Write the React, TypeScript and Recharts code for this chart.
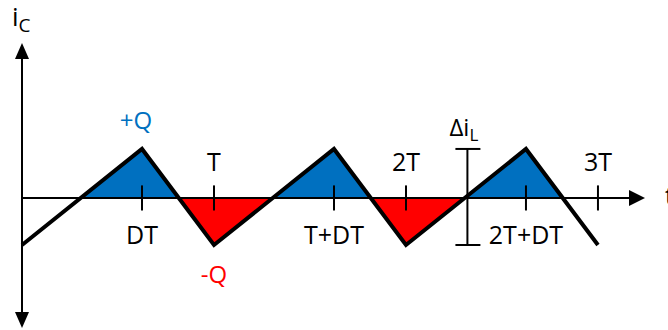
import React from "react";
import {
  ComposedChart,
  Area,
  Line,
  XAxis,
  YAxis,
  ReferenceLine,
  ReferenceDot,
} from "recharts";

// Capacitor current over three switching periods (time in units of T, D = 0.625)
const times = [0, 0.625, 1, 1.625, 2, 2.625, 3];
const current = [-0.48, 0.5, -0.48, 0.5, -0.48, 0.5, -0.48];

// Time-axis tick marks and their labels
const tickTimes = [0.625, 1, 1.625, 2, 2.625, 3];
const tickLabels = ["DT", "T", "T+DT", "2T", "2T+DT", "3T"];
const tickAbove = [false, true, false, true, false, true];

// Charge annotations: first positive peak and first negative trough
const chargeTimes = [0.625, 1];
const chargeValues = [0.5, -0.48];
const chargeLabels = ["+Q", "-Q"];

// Ripple bracket position on the time axis
const rippleTime = 2.32;

const data = times.map((t, k) => ({ t, i: current[k] }));

const FONT = "'Open Sans', 'DejaVu Sans', sans-serif";
const BLUE = "#0070C0";
const RED = "#FF0000";

const maxI = Math.max(...current);
const minI = Math.min(...current);
// Fraction of the area's height that lies above zero
const splitOffset = maxI / (maxI - minI);

// Shading runs from the first rising zero crossing to the last falling one
const n = times.length;
const span = times[n - 1] - times[0];
const firstCross =
  times[0] + ((0 - current[0]) / (current[1] - current[0])) * (times[1] - times[0]);
const lastCross =
  times[n - 2] +
  ((current[n - 2] - 0) / (current[n - 2] - current[n - 1])) * (times[n - 1] - times[n - 2]);
const shadeStart = (firstCross - times[0]) / span;
const shadeWidth = (lastCross - firstCross) / span;

const xDomain: [number, number] = [0, 3.245];
const yDomain: [number, number] = [-1.327, 1.581];
const tickHalf = 0.128;

const VerticalAxisShape = (p: any) => {
  const x = p.x1;
  const top = Math.min(p.y1, p.y2);
  const bottom = Math.max(p.y1, p.y2);
  return (
    <g>
      <line x1={x} y1={top + 12} x2={x} y2={bottom - 12} stroke="#000" strokeWidth={2} />
      <polygon points={`${x},${top} ${x - 7},${top + 16} ${x + 7},${top + 16}`} fill="#000" />
      <polygon points={`${x},${bottom} ${x - 7},${bottom - 16} ${x + 7},${bottom - 16}`} fill="#000" />
      <text x={x - 10} y={top - 17} fontFamily={FONT} fontSize={26} fill="#000">
        i
        <tspan fontSize={19} dy={6}>C</tspan>
      </text>
    </g>
  );
};

const HorizontalAxisShape = (p: any) => {
  const y = p.y1;
  const left = Math.min(p.x1, p.x2);
  const right = Math.max(p.x1, p.x2);
  return (
    <g>
      <line x1={left} y1={y} x2={right - 12} y2={y} stroke="#000" strokeWidth={2} />
      <polygon points={`${right},${y} ${right - 16},${y - 8} ${right - 16},${y + 8}`} fill="#000" />
      <text x={right + 20} y={y + 7} fontFamily={FONT} fontSize={25} fill="#000">
        t
      </text>
    </g>
  );
};

const makeTickShape = (label: string, above: boolean) => (p: any) => {
  const x = p.x1;
  const yMid = (p.y1 + p.y2) / 2;
  return (
    <g>
      <line x1={p.x1} y1={p.y1} x2={p.x2} y2={p.y2} stroke="#000" strokeWidth={2} />
      <text
        x={x}
        y={above ? yMid - 27 : yMid + 46}
        textAnchor="middle"
        fontFamily={FONT}
        fontSize={25}
        fill="#000"
      >
        {label}
      </text>
    </g>
  );
};

const RippleShape = (p: any) => {
  const x = p.x1;
  const top = Math.min(p.y1, p.y2);
  const bottom = Math.max(p.y1, p.y2);
  return (
    <g>
      <line x1={x} y1={top} x2={x} y2={bottom} stroke="#000" strokeWidth={2} />
      <line x1={x - 12} y1={top} x2={x + 13} y2={top} stroke="#000" strokeWidth={2} />
      <line x1={x - 12} y1={bottom} x2={x + 13} y2={bottom} stroke="#000" strokeWidth={2} />
      <text x={x - 18} y={top - 13} fontFamily={FONT} fontSize={24} fill="#000">
        Δi
        <tspan fontSize={17} dy={5}>L</tspan>
      </text>
    </g>
  );
};

const makeChargeShape = (label: string, positive: boolean) => (p: any) => (
  <text
    x={positive ? p.cx - 6 : p.cx}
    y={positive ? p.cy - 20 : p.cy + 38}
    textAnchor="middle"
    fontFamily={FONT}
    fontSize={24}
    fill={positive ? BLUE : RED}
  >
    {label}
  </text>
);

export default function App() {
  return (
    <div style={{ position: "absolute", left: 0, top: 0, background: "#fff" }}>
      <ComposedChart
        width={668}
        height={330}
        data={data}
        margin={{ top: 43, right: 23, bottom: 2, left: 22 }}
      >
        <defs>
          {/* blue above zero, red below, only between the outer zero crossings */}
          <pattern
            id="chargeFill"
            patternUnits="objectBoundingBox"
            patternContentUnits="objectBoundingBox"
            x="0"
            y="0"
            width="1"
            height="1"
          >
            <rect x={shadeStart} y={0} width={shadeWidth} height={splitOffset} fill={BLUE} />
            <rect
              x={shadeStart}
              y={splitOffset}
              width={shadeWidth}
              height={1 - splitOffset}
              fill={RED}
            />
          </pattern>
        </defs>
        <XAxis dataKey="t" type="number" domain={xDomain} hide />
        <YAxis type="number" domain={yDomain} hide />
        <Area
          dataKey="i"
          type="linear"
          baseValue={0}
          stroke="none"
          fill="url(#chargeFill)"
          fillOpacity={1}
          isAnimationActive={false}
        />
        <ReferenceLine x={0} ifOverflow="visible" shape={VerticalAxisShape} />
        <ReferenceLine y={0} ifOverflow="visible" shape={HorizontalAxisShape} />
        {tickTimes.map((t, k) => (
          <ReferenceLine
            key={`tick-${k}`}
            ifOverflow="visible"
            segment={[
              { x: t, y: -tickHalf },
              { x: t, y: tickHalf },
            ]}
            shape={makeTickShape(tickLabels[k], tickAbove[k])}
          />
        ))}
        <ReferenceLine
          ifOverflow="visible"
          segment={[
            { x: rippleTime, y: minI },
            { x: rippleTime, y: maxI },
          ]}
          shape={RippleShape}
        />
        {chargeTimes.map((t, k) => (
          <ReferenceDot
            key={`q-${k}`}
            x={t}
            y={chargeValues[k]}
            r={0}
            ifOverflow="visible"
            shape={makeChargeShape(chargeLabels[k], chargeValues[k] > 0)}
          />
        ))}
        <Line
          dataKey="i"
          type="linear"
          stroke="#000"
          strokeWidth={4}
          dot={false}
          activeDot={false}
          isAnimationActive={false}
        />
      </ComposedChart>
    </div>
  );
}
